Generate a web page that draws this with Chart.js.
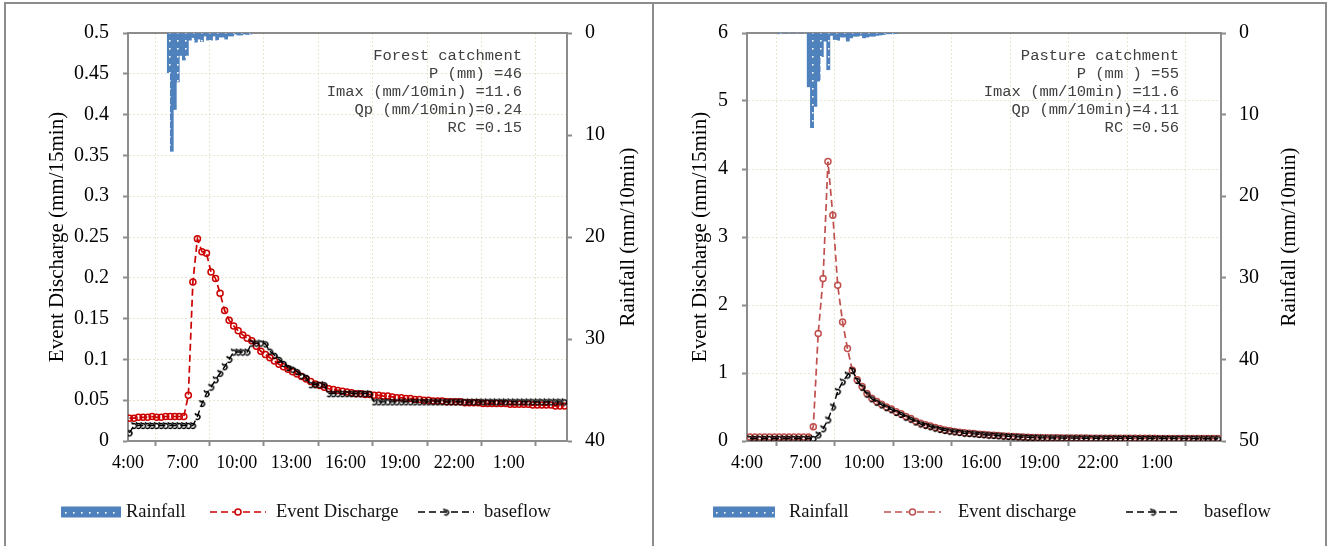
<!DOCTYPE html>
<html>
<head>
<meta charset="utf-8">
<script src="https://cdn.jsdelivr.net/npm/chart.js@4.4.1/dist/chart.umd.min.js"></script>
<style>
html, body { margin: 0; padding: 0; background: #fff; }
body { width: 1330px; height: 546px; position: relative; overflow: hidden; }
.frame { position: absolute; box-sizing: border-box; border: 2px solid #8c8c8c; }
canvas { position: absolute; }
</style>
</head>
<body>
<div class="frame" style="left:4px;top:2px;width:650px;height:600px"></div>
<div class="frame" style="left:654px;top:2px;width:673px;height:600px;border-left:none"></div>
<canvas id="forest" width="646" height="541" style="left:6px;top:5px"></canvas>
<canvas id="pasture" width="668" height="541" style="left:657px;top:5px"></canvas>
<script>
// time axis: hours after 4:00
const xTickHours = [0, 3, 6, 9, 12, 15, 18, 21, 24];
const xTickLabels = ['4:00', '7:00', '10:00', '13:00', '16:00', '19:00', '22:00', '1:00', ''];

// ---- forest catchment ----
const forestFlowStart = 0.08;   // first 15-min reading, hours after 4:00
const forestEvent = [
  0.028, 0.028, 0.029, 0.029, 0.029, 0.030, 0.029, 0.029, 0.030, 0.030, 0.030, 0.030, 0.030,
  0.056, 0.195, 0.248, 0.232, 0.230, 0.207, 0.199, 0.181, 0.160, 0.148, 0.141, 0.135, 0.130,
  0.126, 0.123, 0.116, 0.110,
  0.106, 0.102, 0.098, 0.094, 0.091, 0.088, 0.085, 0.082, 0.079, 0.076, 0.073,
  0.070, 0.068, 0.066, 0.064, 0.063, 0.062, 0.061, 0.060, 0.059, 0.058, 0.058, 0.057, 0.057,
  0.056, 0.056, 0.055,
  0.055, 0.054, 0.053, 0.053, 0.052, 0.052, 0.051, 0.051, 0.050, 0.050, 0.049, 0.049, 0.049,
  0.048, 0.048, 0.048,
  0.048, 0.047, 0.047, 0.047, 0.047, 0.046, 0.046, 0.046, 0.046, 0.046, 0.046, 0.045, 0.045,
  0.045, 0.045, 0.045, 0.044, 0.044, 0.044, 0.044, 0.044, 0.043, 0.043, 0.043
];
const forestBase = [
  0.010, 0.019, 0.019, 0.019, 0.019, 0.019, 0.019, 0.019, 0.019, 0.019, 0.019, 0.019, 0.019,
  0.019, 0.019, 0.030, 0.046, 0.058, 0.066, 0.075, 0.083, 0.091, 0.100, 0.109, 0.109, 0.109,
  0.109, 0.120, 0.120, 0.120, 0.119,
  0.110, 0.105, 0.100, 0.095, 0.090, 0.088, 0.085, 0.080, 0.078, 0.069, 0.069, 0.069, 0.069,
  0.058, 0.058, 0.058, 0.058, 0.058, 0.058, 0.058, 0.058, 0.058, 0.058,
  0.048, 0.048, 0.048, 0.048, 0.048, 0.048, 0.048, 0.048, 0.048, 0.048, 0.048, 0.048, 0.048,
  0.048, 0.048, 0.048, 0.048, 0.048, 0.048, 0.048, 0.048, 0.048, 0.048, 0.048, 0.048, 0.048,
  0.048, 0.048, 0.048, 0.048, 0.048, 0.048, 0.048, 0.048, 0.048, 0.048, 0.048, 0.048, 0.048,
  0.048, 0.048, 0.048, 0.048
];
const forestRainStart = 2.25;   // 6:15, then every 10 min
const forestRain = [3.9, 11.6, 7.5, 4.8, 2.2, 2.65, 2.2, 0.7, 0.45, 0.9, 0.6, 0.85, 0.3, 0.7,
  0.7, 0.3, 0.7, 0.4, 0.4, 0.6, 0.3, 0.3, 0.1, 0.2, 0.2, 0.1, 0.15, 0.1];
const forestQTicks = [0, 0.05, 0.1, 0.15, 0.2, 0.25, 0.3, 0.35, 0.4, 0.45, 0.5];
const forestQLabels = ['0', '0.05', '0.1', '0.15', '0.2', '0.25', '0.3', '0.35', '0.4', '0.45', '0.5'];
const forestRainTicks = [0, 10, 20, 30, 40];
const forestNotes = ['Forest catchment', 'P (mm) =46', 'Imax (mm/10min) =11.6',
  'Qp (mm/10min)=0.24', 'RC =0.15'];

// ---- pasture catchment ----
const pastureFlowStart = 0.15;
const pastureEvent = [
  0.06, 0.06, 0.06, 0.06, 0.06, 0.06, 0.06, 0.06, 0.06, 0.06, 0.06, 0.06, 0.06,
  0.21, 1.58, 2.39, 4.11, 3.32, 2.29, 1.75, 1.36, 1.04,
  0.90, 0.80, 0.70, 0.63, 0.58, 0.54, 0.50, 0.47, 0.43, 0.40, 0.36, 0.33, 0.29, 0.26, 0.24,
  0.22, 0.20, 0.18, 0.16,
  0.15, 0.14, 0.13, 0.12, 0.115, 0.11, 0.10, 0.095, 0.09, 0.085, 0.08, 0.075, 0.07, 0.066,
  0.062, 0.058, 0.055, 0.052, 0.05, 0.048,
  0.047, 0.046, 0.046, 0.045, 0.045, 0.044, 0.044, 0.043, 0.043, 0.042, 0.042, 0.042, 0.041,
  0.041, 0.041, 0.040, 0.040, 0.040, 0.040, 0.039, 0.039, 0.039, 0.039, 0.038, 0.038, 0.038,
  0.038, 0.037, 0.037, 0.037, 0.037, 0.036, 0.036, 0.036, 0.036, 0.035
];
const pastureBase = [
  0.035, 0.035, 0.035, 0.035, 0.035, 0.035, 0.035, 0.035, 0.035, 0.035, 0.035, 0.035, 0.035,
  0.035, 0.09, 0.18, 0.31, 0.50, 0.73, 0.87, 0.97, 1.04,
  0.89, 0.79, 0.69, 0.62, 0.57, 0.53, 0.49, 0.46, 0.42, 0.39, 0.35, 0.32, 0.28, 0.25, 0.23,
  0.21, 0.19, 0.17, 0.155,
  0.145, 0.135, 0.125, 0.115, 0.11, 0.105, 0.097, 0.092, 0.087, 0.082, 0.077, 0.072, 0.068,
  0.064, 0.06, 0.056, 0.053, 0.05, 0.048, 0.046,
  0.045, 0.044, 0.044, 0.043, 0.043, 0.042, 0.042, 0.041, 0.041, 0.040, 0.040, 0.040, 0.039,
  0.039, 0.039, 0.038, 0.038, 0.038, 0.038, 0.037, 0.037, 0.037, 0.037, 0.036, 0.036, 0.036,
  0.036, 0.035, 0.035, 0.035, 0.035, 0.034, 0.034, 0.034, 0.034, 0.033
];
const pastureRainStart = 1.6667;  // 5:40, then every 10 min
const pastureRain = [0.1, 0, 0, 0, 0, 0, 0, 0, 0, 6.6, 11.6, 9.0, 5.9, 2.9, 1.0, 4.5, 0.3, 0.8,
  0.9, 0.5, 0.5, 1.0, 0.6, 0.4, 0.4, 0.3, 0.6, 0.5, 0.4, 0.4, 0.3, 0.25, 0.2, 0.1, 0.1, 0.1, 0.05];
const pastureQTicks = [0, 1, 2, 3, 4, 5, 6];
const pastureQLabels = ['0', '1', '2', '3', '4', '5', '6'];
const pastureRainTicks = [0, 10, 20, 30, 40, 50];
const pastureNotes = ['Pasture catchment', 'P (mm ) =55', 'Imax (mm/10min) =11.6',
  'Qp (mm/10min)=4.11', 'RC =0.56'];

const SERIF = '"Liberation Serif", "Times New Roman", serif';
const AXIS = '#8c8c8c';
const GRID = 'rgba(215, 215, 180, 0.6)';

function toPoints(values, start, step) {
  return values.map((v, i) => ({ x: start + i * step, y: v }));
}

function rainPattern(ctx) {
  const c = document.createElement('canvas');
  c.width = 8; c.height = 8;
  const g = c.getContext('2d');
  g.fillStyle = '#4f81bd';
  g.fillRect(0, 0, 8, 8);
  g.fillStyle = '#ffffff';
  g.fillRect(3, 3, 1.6, 1.6);
  return ctx.createPattern(c, 'repeat');
}

// little hook marker used for baseflow
function curlMark() {
  const c = document.createElement('canvas');
  c.width = 9; c.height = 9;
  const g = c.getContext('2d');
  g.strokeStyle = '#000';
  g.lineWidth = 1.5;
  g.beginPath();
  g.arc(4.5, 5, 2.4, -Math.PI * 0.75, Math.PI * 0.75);
  g.stroke();
  g.beginPath();
  g.moveTo(2.0, 1.2);
  g.lineTo(3.4, 3.0);
  g.stroke();
  return c;
}

// axis titles, text box and legend
const decor = {
  id: 'decor',
  afterDraw(chart, args, o) {
    const ctx = chart.ctx;
    const area = chart.chartArea;
    const ds = chart.data.datasets;
    ctx.save();
    ctx.fillStyle = '#000';
    ctx.font = '21px ' + SERIF;
    ctx.textAlign = 'center';
    ctx.textBaseline = 'middle';
    const midY = (area.top + area.bottom) / 2;
    [[o.leftTitleX, o.leftTitle], [o.rightTitleX, o.rightTitle]].forEach(([x, t]) => {
      ctx.save();
      ctx.translate(x, midY);
      ctx.rotate(-Math.PI / 2);
      ctx.fillText(t, 0, 0);
      ctx.restore();
    });

    ctx.font = '15.5px "Liberation Mono", "Courier New", monospace';
    ctx.fillStyle = '#404040';
    ctx.textAlign = 'right';
    o.notes.forEach((t, i) => {
      ctx.fillText(t, area.right - o.notesInset, area.top + 23 + i * 18);
    });

    const ly = o.legendY;
    ctx.font = '18.5px ' + SERIF;
    ctx.textAlign = 'left';
    o.legend.forEach(item => {
      const d = ds[item.ds];
      if (d.type === 'bar') {
        ctx.fillStyle = d.backgroundColor;
        ctx.fillRect(item.x, ly - 5.5, item.w, 11);
      } else {
        ctx.save();
        ctx.strokeStyle = d.borderColor;
        ctx.lineWidth = d.borderWidth;
        ctx.setLineDash(d.borderDash);
        ctx.beginPath();
        ctx.moveTo(item.x, ly);
        ctx.lineTo(item.x + item.w, ly);
        ctx.stroke();
        ctx.setLineDash([]);
        const cx = item.x + item.w / 2;
        if (d.pointStyle instanceof HTMLCanvasElement) {
          ctx.drawImage(d.pointStyle, cx - d.pointStyle.width / 2, ly - d.pointStyle.height / 2);
        } else {
          ctx.fillStyle = '#fff';
          ctx.lineWidth = d.pointBorderWidth;
          ctx.beginPath();
          ctx.arc(cx, ly, d.pointRadius, 0, Math.PI * 2);
          ctx.fill();
          ctx.stroke();
        }
        ctx.restore();
      }
      ctx.fillStyle = '#111';
      ctx.fillText(d.label, item.tx, ly);
    });
    ctx.restore();
  }
};

function buildChart(id, o) {
  const ctx = document.getElementById(id).getContext('2d');
  const tickFont = { family: SERIF, size: 20 };
  return new Chart(ctx, {
    type: 'line',
    data: {
      datasets: [
        {
          type: 'bar', label: 'Rainfall',
          data: toPoints(o.rain, o.rainStart, 1 / 6),
          xAxisID: 'x', yAxisID: 'yR',
          backgroundColor: rainPattern(ctx), borderWidth: 0,
          barPercentage: 1, categoryPercentage: 1, order: 3
        },
        {
          type: 'line', label: o.eventLabel,
          data: toPoints(o.event, o.flowStart, 0.25),
          xAxisID: 'x', yAxisID: 'y',
          borderColor: o.red, borderWidth: 1.7, borderDash: [7, 4], tension: 0,
          pointRadius: 3, pointBorderWidth: 1.5, pointBorderColor: o.red,
          pointBackgroundColor: 'rgba(255,255,255,0)', order: 2
        },
        {
          type: 'line', label: 'baseflow',
          data: toPoints(o.base, o.flowStart, 0.25),
          xAxisID: 'x', yAxisID: 'y',
          borderColor: '#000', borderWidth: 1.4, borderDash: [7, 4], tension: 0,
          pointStyle: curlMark(), pointRadius: 3, order: 1
        }
      ]
    },
    options: {
      responsive: false,
      animation: false,
      layout: { padding: 0 },
      plugins: { legend: { display: false }, tooltip: { enabled: false }, decor: o.decor },
      scales: {
        x: {
          type: 'linear', position: 'bottom', min: 0, max: o.xMax, offset: false,
          afterBuildTicks: s => { s.ticks = xTickHours.map(v => ({ value: v })); },
          afterFit: s => { s.height = 105; },
          ticks: {
            autoSkip: false, maxRotation: 0, padding: 6, color: '#000',
            font: { family: SERIF, size: 18 },
            callback: (v, i) => xTickLabels[i]
          },
          grid: { color: GRID, lineWidth: 1, tickLength: 5, tickColor: AXIS, tickWidth: 2 },
          border: { color: AXIS, width: 2, dash: [2, 2] }
        },
        xTop: {
          type: 'linear', position: 'top', min: 0, max: 1,
          afterFit: s => { s.height = 28; },
          ticks: { display: false },
          grid: { display: false },
          border: { color: AXIS, width: 2 }
        },
        y: {
          type: 'linear', position: 'left', min: 0, max: o.qMax,
          afterBuildTicks: s => { s.ticks = o.qTicks.map(v => ({ value: v })); },
          afterFit: s => { s.width = o.leftW; },
          ticks: {
            autoSkip: false, padding: 14, color: '#000', font: tickFont,
            callback: (v, i) => o.qLabels[i]
          },
          grid: { color: GRID, lineWidth: 1, tickLength: 5, tickColor: AXIS, tickWidth: 2 },
          border: { color: AXIS, width: 2, dash: [2, 2] }
        },
        yR: {
          type: 'linear', position: 'right', reverse: true, min: 0, max: o.rMax,
          afterBuildTicks: s => { s.ticks = o.rTicks.map(v => ({ value: v })); },
          afterFit: s => { s.width = o.rightW; },
          ticks: {
            autoSkip: false, padding: 13, color: '#000', font: tickFont,
            callback: v => String(v)
          },
          grid: { drawOnChartArea: false, tickLength: 5, tickColor: AXIS, tickWidth: 2 },
          border: { color: AXIS, width: 2 }
        }
      }
    },
    plugins: [decor]
  });
}

buildChart('forest', {
  rain: forestRain, rainStart: forestRainStart,
  event: forestEvent, base: forestBase, flowStart: forestFlowStart,
  eventLabel: 'Event Discharge', red: '#cc0000',
  xMax: 24.22, qMax: 0.5, qTicks: forestQTicks, qLabels: forestQLabels,
  rMax: 40, rTicks: forestRainTicks, leftW: 122, rightW: 85,
  decor: {
    leftTitle: 'Event Discharge (mm/15min)', leftTitleX: 51,
    rightTitle: 'Rainfall (mm/10min)', rightTitleX: 622,
    notes: forestNotes, notesInset: 45, legendY: 507,
    legend: [
      { ds: 0, x: 55, w: 60, tx: 120 },
      { ds: 1, x: 204, w: 56, tx: 270 },
      { ds: 2, x: 412, w: 56, tx: 478 }
    ]
  }
});

buildChart('pasture', {
  rain: pastureRain, rainStart: pastureRainStart,
  event: pastureEvent, base: pastureBase, flowStart: pastureFlowStart,
  eventLabel: 'Event discharge', red: '#c0504d',
  xMax: 24.3, qMax: 6, qTicks: pastureQTicks, qLabels: pastureQLabels,
  rMax: 50, rTicks: pastureRainTicks, leftW: 90, rightW: 104,
  decor: {
    leftTitle: 'Event Discharge (mm/15min)', leftTitleX: 43,
    rightTitle: 'Rainfall (mm/10min)', rightTitleX: 632,
    notes: pastureNotes, notesInset: 42, legendY: 507,
    legend: [
      { ds: 0, x: 56, w: 62, tx: 132 },
      { ds: 1, x: 227, w: 57, tx: 301 },
      { ds: 2, x: 469, w: 54, tx: 547 }
    ]
  }
});
</script>
</body>
</html>
